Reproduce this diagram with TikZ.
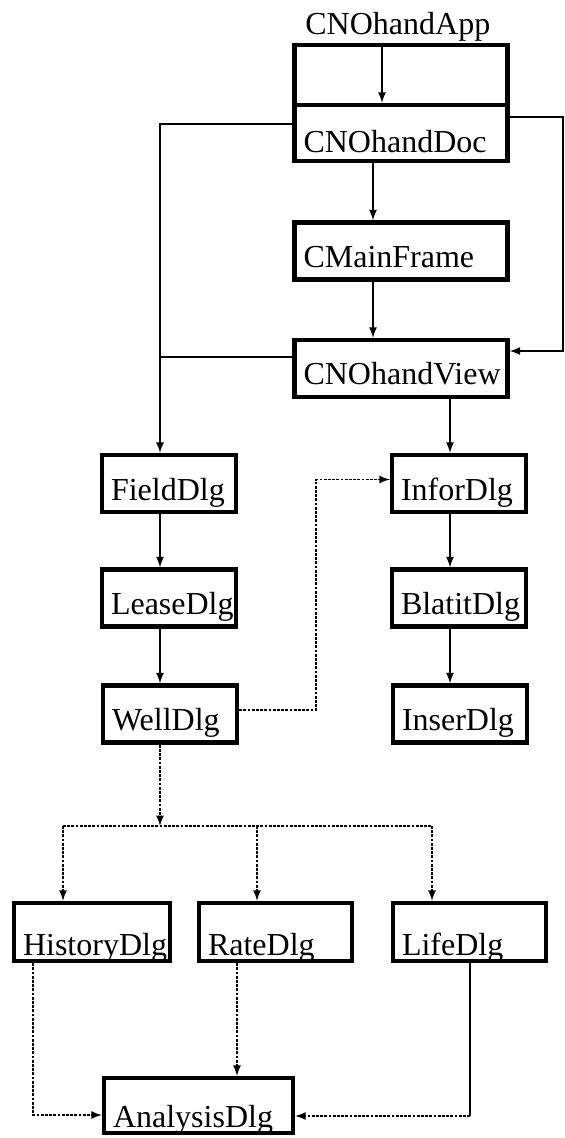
\documentclass[tikz,border=0pt]{standalone}
\usepackage{fontspec}
\setmainfont{Liberation Serif}
\usetikzlibrary{arrows}
\hfuzz=20pt

\begin{document}
\begin{tikzpicture}[x=0.5pt,y=-0.5pt,
  every node/.style={font=\fontsize{16}{19}\selectfont},
  dlg/.style={draw, line width=2.2pt, inner xsep=4.5pt, inner ysep=0pt, align=left, text height=22.5pt, text depth=6pt},
  wide/.style={text width=97.5pt},
  narrow/.style={text width=58pt},
  low/.style={text height=26pt, text depth=3pt},
  wire/.style={line width=0.8pt},
  conn/.style={wire, -latex},
  dotline/.style={wire, dash pattern=on 1.4pt off 0.7pt},
  dotconn/.style={dotline, -latex}]
\useasboundingbox (0,0) rectangle (565,1138);
% boxes
\node [anchor=base west, inner sep=0pt] (appname) at (305,35) {CNOhandApp};
\node [dlg, wide, text height=24pt, text depth=6pt] (app) at (401,75) {};
\node [dlg, wide, text height=24pt, text depth=4pt] (doc) at (401,133) {CNOhandDoc};
\node [dlg, wide] (frame) at (401,251) {CMainFrame};
\node [dlg, wide] (view) at (401,368.5) {CNOhandView};
\node [dlg, narrow] (field) at (169,483.5) {FieldDlg};
\node [dlg, narrow] (lease) at (169,598) {LeaseDlg};
\node [dlg, narrow] (well) at (170,714) {WellDlg};
\node [dlg, narrow] (infor) at (459,483.5) {InforDlg};
\node [dlg, narrow] (blatit) at (459,598) {BlatitDlg};
\node [dlg, narrow] (inser) at (460,714) {InserDlg};
\node [dlg, low, text width=69pt] (history) at (92,932) {HistoryDlg};
\node [dlg, low, text width=67.5pt] (rate) at (275.5,932) {RateDlg};
\node [dlg, low, text width=67.5pt] (life) at (469.5,932) {LifeDlg};
\node [dlg, low, text height=24.5pt, text width=85.5pt] (analysis) at (198.5,1105.5) {AnalysisDlg};
% columns and bends
\coordinate (appx) at (382,0);
\coordinate (colA) at (160,0);
\coordinate (colB) at (373,0);
\coordinate (colC) at (450,0);
\coordinate (rim) at (563,240);
\coordinate (jog) at (316,600);
\coordinate (fork) at (160,826);
\coordinate (forkL) at (63,826);
\coordinate (forkM) at (257,826);
\coordinate (forkR) at (432,826);
\coordinate (histx) at (33,1115);
\coordinate (ratex) at (237,0);
\coordinate (lifex) at (470,1116);
\coordinate (viewL) at ([yshift=5.75pt]view.west);
% connectors
\draw [conn] (app.north -| appx) -- (doc.north -| appx);
\draw [conn] ([yshift=4.5pt]doc.west) -| (field.north -| colA);
\draw [conn] ([yshift=8pt]doc.east) -| (rim) |- ([yshift=8.75pt]view.east);
\draw [conn] (doc.south -| colB) -- (frame.north -| colB);
\draw [conn] (frame.south -| colB) -- (view.north -| colB);
\draw [wire] (viewL) -- (viewL -| colA);
\draw [conn] (view.south -| colC) -- (infor.north -| colC);
\draw [conn] (field.south -| colA) -- (lease.north -| colA);
\draw [conn] (lease.south -| colA) -- (well.north -| colA);
\draw [conn] (infor.south -| colC) -- (blatit.north -| colC);
\draw [conn] (blatit.south -| colC) -- (inser.north -| colC);
\draw [dotconn] ([yshift=2pt]well.east) -| (jog) |- ([yshift=2pt]infor.west);
\draw [dotconn] (well.south -| colA) -- (fork);
\draw [dotline] (forkL) -- (forkR);
\draw [dotconn] (forkL) -- (history.north -| forkL);
\draw [dotconn] (forkM) -- (rate.north -| forkM);
\draw [dotconn] (forkR) -- (life.north -| forkR);
\draw [dotconn] (history.south -| histx) |- (analysis.west |- histx);
\draw [dotconn] (rate.south -| ratex) -- (analysis.north -| ratex);
\draw [wire] (life.south -| lifex) -- (lifex);
\draw [dotconn] (lifex) -- (analysis.east |- lifex);
\end{tikzpicture}
\end{document}
